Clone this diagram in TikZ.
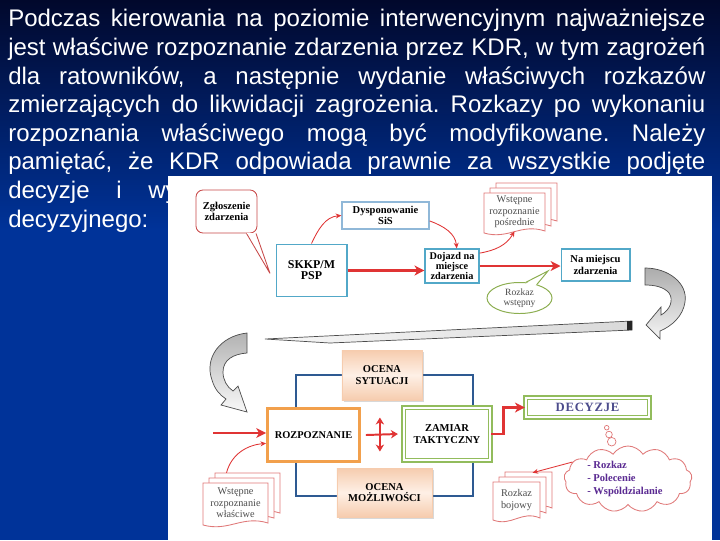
\documentclass[tikz,border=0pt]{standalone}
\usepackage{fontspec}
\setmainfont{Liberation Sans}
\newfontfamily\diagfont{Liberation Serif}
\usetikzlibrary{arrows.meta, positioning, shapes.geometric, shapes.symbols, calc, shadows}
\hyphenpenalty=10000
\exhyphenpenalty=10000
\frenchspacing

\definecolor{slidetop}{HTML}{01082C}
\definecolor{slideblue}{HTML}{003399}
\definecolor{redline}{HTML}{E03434}
\definecolor{bubred}{HTML}{C84848}
\definecolor{docred}{HTML}{E07878}
\definecolor{boxcyan}{HTML}{52A8C8}
\definecolor{boxblue}{HTML}{90B8D8}
\definecolor{boxgreen}{HTML}{92BC5C}
\definecolor{bubgreen}{HTML}{8CAE50}
\definecolor{boxorange}{HTML}{F2A04C}
\definecolor{frameblue}{HTML}{2E5A92}
\definecolor{peachtop}{HTML}{FEF0E6}
\definecolor{peachbot}{HTML}{F6CCAE}
\definecolor{docgray}{HTML}{4C4C4C}
\definecolor{decyzcol}{HTML}{4C4C8C}
\definecolor{cloudtext}{HTML}{5A2A92}

% stack of three pages, front page given by x y w h
\newcommand\docstack[4]{%
  \foreach \d in {12,6,0}{
    \pgfmathsetmacro\pgx{#1+\d}
    \pgfmathsetmacro\pgy{#2-\d*5/6}
    \filldraw[docpage] (\pgx,\pgy) -- ({\pgx+#3},\pgy) -- ({\pgx+#3},{\pgy+#4})
      .. controls ({\pgx+0.6*#3},{\pgy+#4-8}) and ({\pgx+0.4*#3},{\pgy+#4+9}) .. (\pgx,{\pgy+#4+2}) -- cycle;
  }}

\begin{document}
\begin{tikzpicture}[
    x=0.025cm, y=-0.025cm,
    txt/.style={font=\diagfont\bfseries\fontsize{7.5}{8}\selectfont, align=center, inner sep=0pt},
    doc/.style={font=\diagfont\fontsize{7.3}{8.1}\selectfont, text=docgray, align=center, inner sep=0pt},
    docpage/.style={draw=docred, line width=0.6pt, fill=white},
    bubble/.style={txt, draw=bubred, line width=0.6pt, rounded corners=5pt, fill=white},
    cyanbox/.style={txt, draw=boxcyan, line width=1.4pt, fill=white},
    bluebox/.style={txt, draw=boxblue, line width=0.9pt, fill=white},
    evalbox/.style={txt, draw=peachbot, line width=0.4pt, top color=peachbot, bottom color=peachbot, middle color=peachtop,
        drop shadow={shadow xshift=1.2pt, shadow yshift=-1.2pt, opacity=0.3}},
    orangebox/.style={txt, draw=boxorange, line width=2pt, fill=white},
    greenbox/.style={txt, draw=boxgreen, double=white, double distance=1.2pt, line width=1.3pt, fill=white},
    bigarrow/.style={draw=redline, line width=2pt, -{Stealth[length=7pt, width=7pt, inset=2pt]}},
    midarrow/.style={draw=redline, line width=1.4pt},
    thinarrow/.style={draw=redline, line width=0.6pt, -{Stealth[length=4pt, width=3.5pt]}},
    grayshape/.style={draw=gray!60!black, line width=0.5pt},
]
\useasboundingbox (0,0) rectangle (720,540);

% slide background
\shade[top color=slidetop, bottom color=slideblue] (0,0) rectangle (720,230);
\fill[slideblue] (0,229) rectangle (720,540);

% text of the slide
\node[anchor=north west, text width=17.425cm, align=justify, inner sep=0pt, text=white,
      font=\fontsize{17.07}{20.33}\selectfont] (intro) at (8,9.3)
  {Podczas kierowania na poziomie interwencyjnym najważniejsze\linebreak
   jest właściwe rozpoznanie zdarzenia przez KDR, w tym zagrożeń\linebreak
   dla ratowników, a następnie wydanie właściwych rozkazów\linebreak
   zmierzających do likwidacji zagrożenia. Rozkazy po wykonaniu\linebreak
   rozpoznania właściwego mogą być modyfikowane. Należy\linebreak
   pamiętać, że KDR odpowiada prawnie za wszystkie podjęte\linebreak
   decyzje\hspace*{19pt}i\hspace*{19pt}wy\newline
   decyzyjnego:};

% picture panel
\fill[white] (168,176) rectangle (712,540);

% gray turning arrows
\shadedraw[grayshape, top color=gray!65, bottom color=gray!8]
  (645,268) .. controls (668,268) and (688,283) .. (685,302) .. controls (683,316) and (672,326) .. (660,331)
  -- (660,339) -- (646,325) -- (661,307) -- (661,315)
  .. controls (670,310) and (674,300) .. (669,293) .. controls (664,287) and (655,285) .. (645,285) -- cycle;
\shadedraw[grayshape, left color=gray!6, right color=gray!30]
  (265,339) -- (632,321) -- (632,330) -- (330,343) -- cycle;
\fill[black!85] (627,321.2) -- (632,321) -- (632,330) -- (627,330.2) -- cycle;
\shadedraw[grayshape, top color=gray!60, bottom color=gray!5]
  (247,333) .. controls (220,336) and (204,358) .. (212,380) .. controls (215,390) and (220,395) .. (226,399)
  -- (221,405) -- (247,412) -- (238,386) -- (233,391)
  .. controls (227,387) and (223,380) .. (223,372) .. controls (223,360) and (233,354) .. (247,353) -- cycle;

% call and dispatch
\node[bubble, minimum width=1.525cm, minimum height=1.075cm] (zgl) at (226.5,211.5) {Zgłoszenie\\zdarzenia};
\filldraw[draw=bubred, fill=white, line width=0.6pt] ($(zgl.south)+(20,0)$) -- ($(zgl.south)+(43.5,40)$) -- ($(zgl.south)+(29.5,0)$);
\draw[white, line width=0.9pt] ($(zgl.south)+(20.8,0)$) -- ($(zgl.south)+(28.8,0)$);
\node[bluebox, minimum width=2.175cm, minimum height=0.675cm] (dysp) at (385.5,215.5) {Dysponowanie\\SiS};
\node[cyanbox, font=\diagfont\bfseries\fontsize{8.5}{7.8}\selectfont, minimum width=1.75cm, minimum height=1.3cm] (skkp) at (311.5,270.5) {SKKP/M\\PSP};
\node[cyanbox, font=\diagfont\bfseries\fontsize{7.3}{7.2}\selectfont, minimum width=1.33cm, minimum height=0.83cm] (dojazd) at (452,266) {Dojazd na\\miejsce\\zdarzenia};
\node[cyanbox, minimum width=1.7cm, minimum height=0.78cm] (miejsce) at (595.5,265) {Na miejscu\\zdarzenia};

\docstack{484}{193}{61}{38}
\node[doc, minimum width=1.525cm, minimum height=0.95cm] (posr) at (514.5,212) {Wstępne\\rozpoznanie\\pośrednie};

\node[ellipse, draw=bubgreen, line width=0.7pt, fill=white, minimum width=1.625cm, minimum height=0.775cm,
      doc, font=\diagfont\fontsize{6.8}{7.4}\selectfont] (wst) at (519.5,298) {Rozkaz\\wstępny};
\fill[white] ($(wst.68)!0.12!(wst.center)$) -- ($(wst.center)+(28.5,-27)$) -- ($(wst.38)!0.12!(wst.center)$) -- cycle;
\draw[bubgreen, line width=0.7pt] (wst.68) -- ($(wst.center)+(28.5,-27)$) -- (wst.38);

\draw[bigarrow] (skkp.east) -- (skkp.east -| dojazd.west);
\draw[bigarrow] (dojazd.east) -- (dojazd.east -| miejsce.west);
\draw[thinarrow] (skkp.north) to[out=65, in=185] (dysp.west);
\draw[thinarrow] (dysp.-7) to[out=-20, in=95] (dojazd.75);
\draw[thinarrow] (dojazd.25) to[out=10, in=-120] (posr.south);

% decision loop
\node[draw=frameblue, line width=0.8pt, minimum width=4.425cm, minimum height=3.025cm] (loop) at (384.5,435.5) {};
\node[evalbox, minimum width=2.0cm, minimum height=1.25cm] (ocs) at (382,375) {OCENA\\SYTUACJI};
\node[evalbox, minimum width=2.375cm, minimum height=1.225cm] (ocm) at (384.5,492.5) {OCENA\\MOŻLIWOŚCI};
\node[orangebox, font=\diagfont\bfseries\fontsize{7.4}{8}\selectfont, minimum width=2.3cm, minimum height=1.33cm] (rozp) at (313.5,435) {ROZPOZNANIE};
\node[greenbox, minimum width=2.16cm, minimum height=1.31cm] (zamiar) at (447,434) {ZAMIAR\\TAKTYCZNY};
\node[greenbox, text=decyzcol, font=\diagfont\bfseries\fontsize{9}{9}\selectfont\addfontfeature{LetterSpace=6},
      minimum width=3.085cm, minimum height=0.485cm] (decyz) at (587.5,407.5) {DECYZJE};

\coordinate (cross) at ($(rozp.east)!0.5!(zamiar.west)$);
\draw[midarrow, {Stealth[length=5pt, width=6pt]}-{Stealth[length=5pt, width=6pt]}] ($(cross)+(-2,-17)$) -- ($(cross)+(-2,17)$);
\draw[midarrow, -{Stealth[length=5pt, width=6pt]}] ($(rozp.east)+(5,0)$) -- ($(zamiar.west)+(-5,0)$);
\coordinate (src) at (213,433);
\draw[bigarrow] (src) -- (src -| rozp.west);
\draw[bigarrow] (zamiar.east) -- ++(12,0) |- (decyz.west);

% orders
\node[circle, draw=docred, fill=white, line width=0.5pt, inner sep=0pt, minimum size=0.115cm] (th1) at (606.7,427.7) {};
\node[circle, draw=docred, fill=white, line width=0.5pt, inner sep=0pt, minimum size=0.165cm] (th2) at (609,434.5) {};
\node[circle, draw=docred, fill=white, line width=0.5pt, inner sep=0pt, minimum size=0.215cm] (th3) at (611.7,441.7) {};
\node[cloud, cloud puffs=13, cloud puff arc=115, aspect=1.9, draw=docred, fill=white, line width=0.6pt,
      minimum width=3.2cm, minimum height=1.65cm, inner sep=0pt] (cloud) at (628,479) {};
\node[txt, text=cloudtext, align=left, anchor=west, font=\diagfont\bfseries\fontsize{7.5}{9.2}\selectfont] (orders) at (587,479)
  {- Rozkaz\\- Polecenie\\- Wspóldzialanie};

\docstack{493}{482}{47}{36}
\node[doc, minimum width=1.175cm, minimum height=0.9cm] (bojowy) at (516.5,500) {Rozkaz\\bojowy};
\draw[thinarrow] (cloud.163) to[out=195, in=15] ($(bojowy.north)+(16,-9)$);

\docstack{203}{483}{65}{40}
\node[doc, minimum width=1.625cm, minimum height=1.0cm] (wlasc) at (235.5,503) {Wstępne\\rozpoznanie\\właściwe};
\draw[thinarrow] ($(wlasc.north)+(-9,-10)$) to[out=75, in=185] (rozp.190);

\end{tikzpicture}
\end{document}
